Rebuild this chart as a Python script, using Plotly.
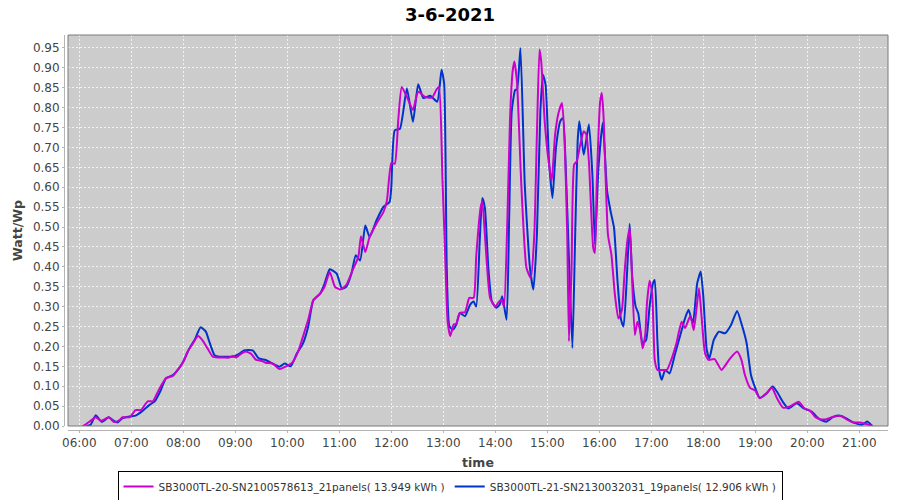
import plotly.graph_objects as go

DAY = "2021-06-03"

# SB3000TL-20 (magenta)
times_20 = ["06:04", "06:08", "06:13", "06:19", "06:25", "06:34", "06:40", "06:46", "06:50", "06:58",
            "07:05", "07:11", "07:19", "07:25", "07:30", "07:34", "07:40", "07:48", "07:53", "07:59",
            "08:05", "08:11", "08:17", "08:22", "08:28", "08:34", "08:40", "08:46", "08:53", "08:57",
            "09:01", "09:07", "09:12", "09:18", "09:24", "09:30", "09:35", "09:43", "09:51", "09:58",
            "10:06", "10:13", "10:20", "10:24", "10:30", "10:38", "10:43", "10:49", "10:55", "11:01",
            "11:08", "11:16", "11:22", "11:25", "11:30", "11:35", "11:43", "11:51", "11:55", "12:00",
            "12:04", "12:08", "12:12", "12:18", "12:25", "12:31", "12:39", "12:47", "12:52", "12:55",
            "12:59", "13:02", "13:05", "13:08", "13:12", "13:15", "13:19", "13:25", "13:30", "13:35",
            "13:38", "13:43", "13:45", "13:49", "13:54", "14:00", "14:03", "14:07", "14:10", "14:14",
            "14:17", "14:20", "14:22", "14:25", "14:30", "14:36", "14:41", "14:45", "14:48", "14:51",
            "14:53", "14:57", "15:01", "15:05", "15:09", "15:13", "15:17", "15:20", "15:23", "15:25",
            "15:28", "15:31", "15:34", "15:38", "15:42", "15:45", "15:48", "15:53", "15:55", "15:57",
            "16:01", "16:03", "16:05", "16:10", "16:14", "16:18", "16:22", "16:26", "16:29", "16:32",
            "16:35", "16:37", "16:41", "16:44", "16:47", "16:50", "16:53", "16:55", "16:58", "17:01",
            "17:04", "17:07", "17:12", "17:18", "17:23", "17:29", "17:35", "17:39", "17:45", "17:49",
            "17:55", "17:58", "18:02", "18:06", "18:13", "18:21", "18:31", "18:39", "18:44", "18:48",
            "18:54", "19:00", "19:05", "19:13", "19:19", "19:25", "19:32", "19:40", "19:50", "19:57",
            "20:03", "20:09", "20:15", "20:22", "20:30", "20:40", "20:45", "20:53", "21:01", "21:08",
            "21:15"]
watt_20 = [0.000, 0.005, 0.013, 0.022, 0.013, 0.022, 0.010, 0.014, 0.022, 0.022,
           0.040, 0.040, 0.062, 0.062, 0.083, 0.100, 0.120, 0.126, 0.140, 0.157,
           0.187, 0.207, 0.226, 0.216, 0.195, 0.174, 0.172, 0.172, 0.172, 0.176,
           0.172, 0.182, 0.187, 0.182, 0.166, 0.164, 0.159, 0.157, 0.143, 0.149,
           0.160, 0.190, 0.238, 0.266, 0.316, 0.333, 0.350, 0.387, 0.350, 0.343,
           0.354, 0.395, 0.425, 0.477, 0.437, 0.475, 0.509, 0.538, 0.567, 0.661,
           0.659, 0.768, 0.852, 0.827, 0.794, 0.840, 0.827, 0.825, 0.845, 0.852,
           0.623, 0.440, 0.263, 0.226, 0.255, 0.257, 0.284, 0.286, 0.322, 0.322,
           0.427, 0.548, 0.565, 0.448, 0.322, 0.300, 0.309, 0.318, 0.300, 0.523,
           0.774, 0.891, 0.916, 0.866, 0.607, 0.397, 0.372, 0.481, 0.732, 0.946,
           0.916, 0.766, 0.674, 0.615, 0.732, 0.787, 0.812, 0.715, 0.481, 0.213,
           0.397, 0.657, 0.665, 0.707, 0.741, 0.732, 0.665, 0.448, 0.435, 0.607,
           0.816, 0.837, 0.774, 0.481, 0.430, 0.330, 0.270, 0.290, 0.380, 0.459,
           0.497, 0.417, 0.229, 0.262, 0.241, 0.195, 0.229, 0.308, 0.365, 0.334,
           0.166, 0.141, 0.141, 0.141, 0.166, 0.208, 0.262, 0.246, 0.277, 0.241,
           0.346, 0.275, 0.183, 0.166, 0.168, 0.141, 0.170, 0.187, 0.166, 0.128,
           0.096, 0.089, 0.070, 0.082, 0.097, 0.070, 0.046, 0.049, 0.061, 0.044,
           0.039, 0.023, 0.017, 0.017, 0.023, 0.025, 0.017, 0.009, 0.009, 0.005,
           0.000]

# SB3000TL-21 (blue)
times_21 = ["06:08", "06:13", "06:19", "06:26", "06:34", "06:38", "06:44", "06:50", "06:58", "07:05",
            "07:13", "07:21", "07:27", "07:34", "07:40", "07:48", "07:55", "08:01", "08:07", "08:13",
            "08:20", "08:26", "08:30", "08:36", "08:42", "08:50", "08:57", "09:05", "09:10", "09:20",
            "09:27", "09:35", "09:43", "09:51", "09:57", "10:04", "10:11", "10:18", "10:24", "10:30",
            "10:38", "10:43", "10:49", "10:57", "11:03", "11:08", "11:14", "11:19", "11:24", "11:30",
            "11:35", "11:43", "11:51", "11:58", "12:00", "12:04", "12:10", "12:18", "12:25", "12:31",
            "12:37", "12:45", "12:53", "12:58", "13:01", "13:04", "13:07", "13:11", "13:15", "13:19",
            "13:25", "13:31", "13:35", "13:38", "13:42", "13:45", "13:48", "13:52", "13:56", "14:01",
            "14:05", "14:08", "14:13", "14:16", "14:19", "14:23", "14:25", "14:29", "14:34", "14:40",
            "14:44", "14:48", "14:52", "14:55", "14:58", "15:02", "15:06", "15:10", "15:15", "15:18",
            "15:22", "15:26", "15:29", "15:32", "15:35", "15:37", "15:42", "15:48", "15:52", "15:55",
            "15:59", "16:04", "16:09", "16:13", "16:17", "16:21", "16:25", "16:28", "16:32", "16:35",
            "16:38", "16:42", "16:45", "16:50", "16:54", "16:58", "17:02", "17:04", "17:07", "17:09",
            "17:12", "17:16", "17:21", "17:27", "17:33", "17:39", "17:43", "17:48", "17:53", "17:57",
            "18:00", "18:04", "18:07", "18:12", "18:18", "18:25", "18:32", "18:39", "18:45", "18:50",
            "18:55", "19:00", "19:05", "19:13", "19:20", "19:25", "19:32", "19:38", "19:48", "19:56",
            "20:05", "20:14", "20:22", "20:30", "20:38", "20:45", "20:53", "21:03", "21:09", "21:15"]
watt_21 = [0.000, 0.003, 0.027, 0.010, 0.022, 0.016, 0.009, 0.020, 0.024, 0.026,
           0.038, 0.053, 0.062, 0.090, 0.120, 0.128, 0.145, 0.166, 0.195, 0.216,
           0.248, 0.237, 0.212, 0.178, 0.174, 0.174, 0.174, 0.182, 0.190, 0.190,
           0.170, 0.166, 0.157, 0.149, 0.157, 0.150, 0.182, 0.207, 0.249, 0.316,
           0.333, 0.358, 0.394, 0.383, 0.345, 0.350, 0.383, 0.429, 0.416, 0.504,
           0.475, 0.517, 0.551, 0.563, 0.600, 0.743, 0.747, 0.848, 0.764, 0.859,
           0.824, 0.830, 0.815, 0.895, 0.860, 0.397, 0.251, 0.242, 0.255, 0.284,
           0.276, 0.305, 0.313, 0.300, 0.464, 0.573, 0.548, 0.397, 0.313, 0.297,
           0.305, 0.326, 0.267, 0.523, 0.791, 0.845, 0.845, 0.950, 0.607, 0.397,
           0.343, 0.481, 0.791, 0.883, 0.858, 0.665, 0.573, 0.699, 0.766, 0.774,
           0.607, 0.355, 0.196, 0.464, 0.715, 0.766, 0.682, 0.758, 0.632, 0.456,
           0.648, 0.762, 0.590, 0.540, 0.498, 0.364, 0.268, 0.250, 0.384, 0.508,
           0.375, 0.300, 0.283, 0.208, 0.216, 0.300, 0.359, 0.367, 0.216, 0.141,
           0.116, 0.141, 0.132, 0.178, 0.225, 0.271, 0.292, 0.258, 0.359, 0.388,
           0.325, 0.191, 0.170, 0.216, 0.237, 0.233, 0.254, 0.289, 0.250, 0.208,
           0.128, 0.095, 0.071, 0.082, 0.099, 0.086, 0.060, 0.044, 0.057, 0.044,
           0.036, 0.017, 0.011, 0.023, 0.026, 0.019, 0.009, 0.003, 0.011, 0.000]

name_20 = "SB3000TL-20-SN2100578613_21panels( 13.949 kWh )"
name_21 = "SB3000TL-21-SN2130032031_19panels( 12.906 kWh )"


def stamp(ts):
    return [f"{DAY} {t}" for t in ts]


fig = go.Figure()
# blue drawn first so magenta sits on top
fig.add_trace(go.Scatter(x=stamp(times_21), y=watt_21, name=name_21, mode="lines",
                         line=dict(color="#0033cc", width=2, shape="spline", smoothing=0.5),
                         legendrank=2))
fig.add_trace(go.Scatter(x=stamp(times_20), y=watt_20, name=name_20, mode="lines",
                         line=dict(color="#cc00cc", width=2, shape="spline", smoothing=0.5),
                         legendrank=1))

W, H = 824, 395  # paper area in px
fig.add_shape(type="rect", xref="paper", yref="paper",
              x0=4 / W, x1=1, y0=4 / H, y1=1,
              line=dict(color="#7a7a7a", width=1), layer="above")

fig.update_layout(
    width=900, height=500,
    margin=dict(l=64, r=12, t=35, b=70, autoexpand=False),
    paper_bgcolor="white",
    plot_bgcolor="#cccccc",
    font=dict(family="DejaVu Sans", size=12, color="#444444"),
    title=dict(text="<b>3-6-2021</b>", x=0.5, xanchor="center", y=0.971, yanchor="middle",
               font=dict(family="DejaVu Sans", size=18, color="black")),
    xaxis=dict(
        domain=[4 / W, 1], anchor="free", position=0,
        type="date",
        range=[f"{DAY} 05:46:58", f"{DAY} 21:33:07"],
        dtick=3600000, tick0=f"{DAY} 06:00", tickformat="%H:%M",
        showline=True, linecolor="#b4b4b4", linewidth=1,
        ticks="outside", ticklen=2, tickcolor="#b4b4b4",
        showgrid=True, gridcolor="#f2f2f2", gridwidth=1, griddash="2px,2px",
        zeroline=False, automargin=False,
        tickfont=dict(size=12, color="#444444"),
        title=dict(text="<b>time</b>", font=dict(size=12.5, color="#444444"), standoff=8),
    ),
    yaxis=dict(
        domain=[4 / H, 1], anchor="free", position=0,
        range=[0, 0.9826],
        dtick=0.05, tick0=0, tickformat=".2f",
        showline=True, linecolor="#b4b4b4", linewidth=1,
        ticks="outside", ticklen=2, tickcolor="#b4b4b4",
        showgrid=True, gridcolor="#f2f2f2", gridwidth=1, griddash="2px,2px",
        zeroline=False, automargin=False,
        tickfont=dict(size=12, color="#444444"),
        title=dict(text="<b>Watt/Wp</b>", font=dict(size=12.5, color="#444444"), standoff=6),
    ),
    legend=dict(
        orientation="h", xref="container", x=0.5, xanchor="center",
        yref="container", y=0.058, yanchor="top",
        bgcolor="white", bordercolor="black", borderwidth=1,
        font=dict(family="DejaVu Sans", size=10.5, color="#333333"),
        itemwidth=30, tracegroupgap=0,
    ),
    showlegend=True,
)

# page body has a default 8px margin; drop it so the chart sits at the window origin
fig.write_html("out.html", config={"displayModeBar": False},
               post_script="document.body.style.margin='0';")
